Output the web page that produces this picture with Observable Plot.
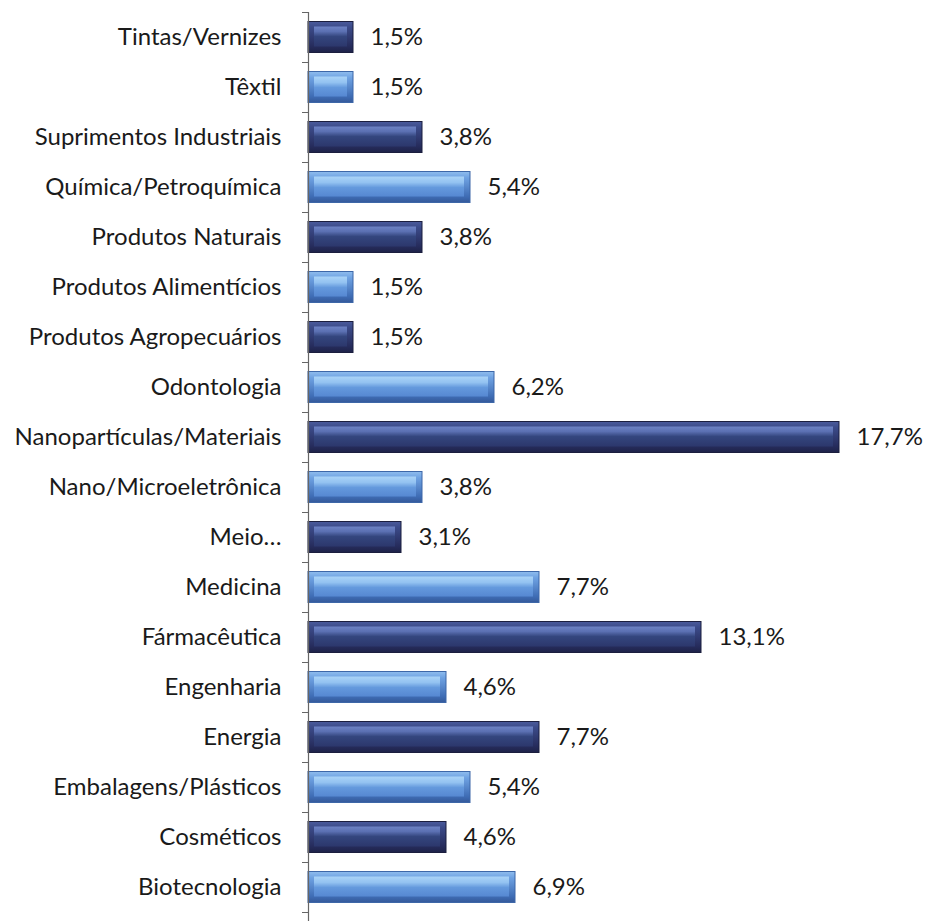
<!DOCTYPE html>
<html>
<head>
<meta charset="utf-8">
<script src="https://cdn.jsdelivr.net/npm/d3@7"></script>
<script src="https://cdn.jsdelivr.net/npm/@observablehq/plot@0.6"></script>
<style>
  html, body { margin: 0; padding: 0; background: #fff; }
  #chart svg { display: block; }
</style>
</head>
<body>
<div id="chart"></div>
<script>
// Categories, top to bottom
const categories = [
  "Tintas/Vernizes",
  "Têxtil",
  "Suprimentos Industriais",
  "Química/Petroquímica",
  "Produtos Naturais",
  "Produtos Alimentícios",
  "Produtos Agropecuários",
  "Odontologia",
  "Nanopartículas/Materiais",
  "Nano/Microeletrônica",
  "Meio…",
  "Medicina",
  "Fármacêutica",
  "Engenharia",
  "Energia",
  "Embalagens/Plásticos",
  "Cosméticos",
  "Biotecnologia"
];
const values = [1.5, 1.5, 3.8, 5.4, 3.8, 1.5, 1.5, 6.2, 17.7, 3.8, 3.1, 7.7, 13.1, 4.6, 7.7, 5.4, 4.6, 6.9];
// shade: "dark" or "light"
const shades = ["dark","light","dark","light","dark","light","dark","light","dark","light","dark","light","dark","light","dark","light","dark","light"];

const data = categories.map((name, i) => ({name, value: values[i], i, shade: shades[i]}));
const dark = data.filter(d => d.shade === "dark");
const light = data.filter(d => d.shade === "light");
const fmt = v => d3.format(".1f")(v).replace(".", ",") + "%";

const font = "Lato, 'Open Sans', sans-serif";
const pad = 0.19;

const chart = Plot.plot({
  width: 926,
  height: 921,
  marginLeft: 308,
  marginRight: 87,
  marginTop: 12,
  marginBottom: 9,
  style: {fontFamily: font, background: "#fff"},
  x: {domain: [0, 17.7], axis: null},
  y: {domain: [0, categories.length], reverse: true, axis: null},
  marks: [
    // base (bevel edge) rects
    Plot.rectX(dark, {x1: 0, x2: "value", y1: d => d.i + pad, y2: d => d.i + 1 - pad, fill: "url(#darkBase)", stroke: "#1b1e3e", strokeWidth: 1}),
    Plot.rectX(light, {x1: 0, x2: "value", y1: d => d.i + pad, y2: d => d.i + 1 - pad, fill: "url(#lightBase)", stroke: "#3d67a8", strokeWidth: 1}),
    // inner face
    Plot.rectX(dark, {x1: 0, x2: "value", y1: d => d.i + pad, y2: d => d.i + 1 - pad, insetTop: 5, insetBottom: 6, insetLeft: 6, insetRight: 6, fill: "url(#darkFace)"}),
    Plot.rectX(light, {x1: 0, x2: "value", y1: d => d.i + pad, y2: d => d.i + 1 - pad, insetTop: 5, insetBottom: 6, insetLeft: 6, insetRight: 6, fill: "url(#lightFace)"}),
    // axis line and boundary ticks
    Plot.ruleX([0], {y1: 0, y2: 18.3, stroke: "#666", strokeWidth: 1.2}),
    Plot.axisY(d3.range(0, categories.length + 1), {anchor: "left", tickSize: 6, tickFormat: () => "", stroke: "#666", strokeWidth: 1}),
    // category labels
    Plot.text(data, {x: 0, y: d => d.i + 0.5, text: "name", textAnchor: "end", dx: -27, fontSize: 24, fill: "#1a1a1a"}),
    // value labels
    Plot.text(data, {x: "value", y: d => d.i + 0.5, text: d => fmt(d.value), textAnchor: "start", dx: 17, fontSize: 24, fill: "#1a1a1a"})
  ]
});

// gradient definitions for bevelled bars
const ns = "http://www.w3.org/2000/svg";
const defs = document.createElementNS(ns, "defs");
function grad(id, stops) {
  const g = document.createElementNS(ns, "linearGradient");
  g.setAttribute("id", id);
  g.setAttribute("x1", "0"); g.setAttribute("y1", "0");
  g.setAttribute("x2", "0"); g.setAttribute("y2", "1");
  for (const [o, c] of stops) {
    const s = document.createElementNS(ns, "stop");
    s.setAttribute("offset", o);
    s.setAttribute("stop-color", c);
    g.appendChild(s);
  }
  defs.appendChild(g);
}
grad("darkBase", [["0", "#4a5a9c"], ["0.2", "#3b4a88"], ["0.8", "#262c5c"], ["1", "#1e2248"]]);
grad("darkFace", [["0", "#6d82c4"], ["0.25", "#5b70b2"], ["0.5", "#34467e"], ["1", "#2c376c"]]);
grad("lightBase", [["0", "#8fbdee"], ["0.2", "#6fa2e2"], ["0.8", "#3f6db5"], ["1", "#34599a"]]);
grad("lightFace", [["0", "#aad3f7"], ["0.3", "#93c2f1"], ["0.55", "#6499dd"], ["1", "#5688d2"]]);
chart.insertBefore(defs, chart.firstChild);

document.getElementById("chart").appendChild(chart);
</script>
</body>
</html>
